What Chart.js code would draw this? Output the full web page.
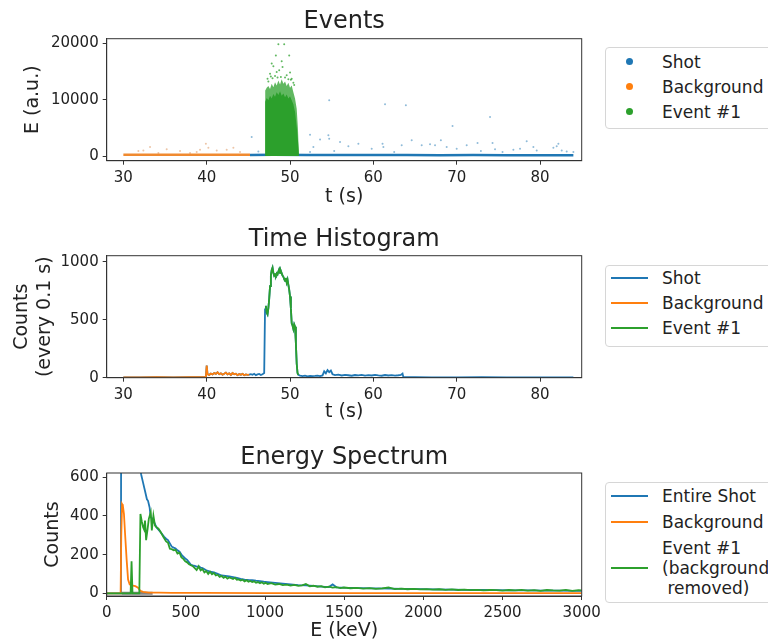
<!DOCTYPE html>
<html>
<head>
<meta charset="utf-8">
<title>Events / Time Histogram / Energy Spectrum</title>
<script src="https://cdn.jsdelivr.net/npm/chart.js@4.4.1/dist/chart.umd.min.js"></script>
<style>
  html, body { margin: 0; padding: 0; background: #fff; }
  body { width: 768px; height: 642px; position: relative; overflow: hidden; font-family: 'DejaVu Sans', sans-serif; color: #222; }
  canvas { position: absolute; left: 0; }
  .legend { position: absolute; left: 605px; width: 220px; box-sizing: border-box; border: 1px solid #d6d6d6; border-radius: 4px; background: #fff; }
  .lg-dot { position: absolute; width: 7px; height: 7px; border-radius: 50%; }
  .lg-line { position: absolute; width: 37px; height: 2px; }
  .lg-text { position: absolute; left: 662px; font-size: 17px; line-height: 20px; white-space: pre; color: #222; }
</style>
</head>
<body>
<canvas id="events" width="768" height="215" style="top:0"></canvas>
<canvas id="hist" width="768" height="215" style="top:215px"></canvas>
<canvas id="spectrum" width="768" height="212" style="top:430px"></canvas>

<script>
// ---------- colours ----------
const BLUE = '#1f77b4';
const ORANGE = '#ff7f0e';
const GREEN = '#2ca02c';

// ---------- Events (scatter of single events) ----------
const evtTicksX = [30, 40, 50, 60, 70, 80];
const evtTicksY = [0, 10000, 20000];

const shotBandT = [45.2, 48, 52, 56, 60, 64, 68, 72, 76, 80, 84];
const shotBandE = [200, 210, 190, 200, 180, 170, 150, 160, 150, 150, 140];
const bgBandT = [30, 33, 36, 39, 42, 45.2];
const bgBandE = [230, 220, 230, 210, 230, 220];

const shotPtT = [45.4, 46.2, 52.4, 52.8, 52.4, 53.6, 54.6, 54.7, 54.7, 55.3, 56.0, 57.0, 58.2, 59.8, 61.1, 61.2, 61.4, 62.5, 63.4, 63.9, 64.6, 65.8, 66.8, 67.4, 68.1, 68.8, 69.5, 70.0, 71.2, 72.5, 72.9, 74.0, 74.3, 74.6, 75.5, 76.8, 77.6, 78.4, 79.2, 79.6, 81.6, 82.0, 82.2, 82.6, 83.2, 84.0];
const shotPtE = [3370, 800, 3780, 1600, 700, 2950, 3660, 9870, 3070, 900, 2480, 1710, 2190, 1300, 2190, 1600, 9160, 700, 1890, 8980, 2780, 1890, 2070, 1890, 2780, 1600, 5320, 1300, 1890, 2300, 890, 6910, 2300, 1180, 700, 1120, 1300, 2600, 1600, 1000, 1480, 1710, 2190, 1000, 800, 700];

const bgPtT = [31.8, 32.4, 33.2, 34.2, 35.2, 36.8, 38.0, 38.8, 39.2, 39.9, 40.2, 41.2, 42.4, 43.2, 44.0];
const bgPtE = [890, 1000, 1600, 530, 1180, 890, 530, 700, 1120, 2190, 1480, 1000, 1120, 1480, 700];

// dense part of event #1: solid core and speckled halo outlines
const evCoreT = [47.0, 47.02, 47.2, 47.4, 47.6, 47.8, 48.0, 48.2, 48.4, 48.6, 48.8, 49.0, 49.2, 49.4, 49.6, 49.8, 50.0, 50.2, 50.4, 50.6, 50.8, 50.95, 51.05, 51.07];
const evCoreE = [0, 9600, 10300, 9900, 10700, 10200, 11000, 10500, 11300, 10800, 11500, 10700, 11100, 10400, 10900, 10200, 10600, 9900, 9200, 7800, 5200, 2800, 900, 0];
const evHaloT = [47.0, 47.02, 47.2, 47.4, 47.6, 47.8, 48.0, 48.2, 48.4, 48.6, 48.8, 49.0, 49.2, 49.4, 49.6, 49.8, 50.0, 50.2, 50.4, 50.6, 50.8, 50.95, 51.07];
const evHaloE = [0, 11600, 12100, 12400, 11900, 12800, 12200, 13100, 12500, 13400, 12700, 13600, 12800, 13200, 12400, 13000, 12100, 12500, 11300, 10200, 8400, 4800, 0];
const evPtT = [48.6, 49.3, 48.3, 49.9, 47.8, 48.0, 49.1, 48.4, 49.6, 48.9, 50.2, 47.4, 47.6, 48.7, 49.4, 50.0, 47.9, 48.2, 49.8, 50.4, 47.3, 50.5, 48.5, 49.0, 47.7, 50.1];
const evPtE = [19800, 19800, 17800, 17800, 16400, 15900, 15800, 14900, 14300, 14000, 13700, 13200, 14600, 15200, 13900, 14800, 13800, 14200, 13600, 13000, 13700, 12600, 13900, 16800, 14100, 13500];

// ---------- Time histogram (counts every 0.1 s) ----------
const histTicksX = [30, 40, 50, 60, 70, 80];
const histTicksY = [0, 500, 1000];

const histBgT = [30, 32, 34, 36, 38, 39.9, 40.0, 40.1, 40.3, 40.5, 40.7, 40.9, 41.1, 41.3, 41.5, 41.7, 41.9, 42.1, 42.3, 42.5, 42.7, 42.9, 43.1, 43.3, 43.5, 43.7, 43.9, 44.1, 44.3, 44.5, 44.7, 44.9, 45.1];
const histBgC = [3, 3, 4, 3, 4, 5, 104, 30, 24, 36, 28, 40, 33, 46, 30, 38, 26, 35, 44, 29, 38, 24, 40, 30, 34, 22, 31, 26, 33, 21, 28, 24, 27];

const histEvT = [47.1, 47.2, 47.3, 47.4, 47.5, 47.6, 47.7, 47.8, 47.9, 48.0, 48.1, 48.2, 48.3, 48.4, 48.5, 48.6, 48.7, 48.8, 48.9, 49.0, 49.1, 49.2, 49.3, 49.4, 49.5, 49.6, 49.7, 49.8, 49.9, 50.0, 50.1, 50.2, 50.3, 50.4, 50.5, 50.6, 50.7, 50.8, 50.9, 51.0];
const histEvC = [620, 560, 545, 600, 680, 790, 880, 930, 950, 905, 880, 890, 880, 900, 890, 915, 935, 905, 920, 900, 880, 870, 850, 835, 860, 820, 845, 800, 760, 700, 600, 470, 450, 420, 460, 440, 300, 120, 40, 25];

const histPreT = [45.3, 45.5, 45.7, 45.9, 46.1, 46.3, 46.5, 46.7, 46.9, 47.0];
const histPreC = [31, 25, 34, 22, 29, 33, 24, 30, 40, 590];
const histPostT = [51.2, 51.5, 51.8, 52.1, 52.4, 52.7, 53.0, 53.3, 53.6, 53.9, 54.1, 54.3, 54.5, 54.7, 54.9, 55.1, 55.4, 55.8, 56.2, 56.6, 57.0, 57.4, 57.8, 58.2, 58.6, 59.0, 59.4, 59.8, 60.2, 60.6, 61.0, 61.4, 61.8, 62.2, 62.6, 63.0, 63.3, 63.5, 63.6, 64.0, 65, 67, 70, 73, 76, 79, 82, 84];
const histPostC = [18, 14, 17, 12, 16, 13, 15, 18, 14, 20, 55, 38, 65, 48, 62, 30, 22, 26, 19, 24, 21, 17, 23, 20, 25, 18, 22, 19, 24, 20, 17, 23, 19, 22, 18, 21, 24, 35, 5, 4, 4, 3, 3, 4, 3, 3, 3, 3];

// the whole shot = background part + gap + event + tail
const histShotT = histBgT.concat(histPreT, histEvT, histPostT);
const histShotC = histBgC.concat(histPreC, histEvC, histPostC);

// ---------- Energy spectrum ----------
const specTicksX = [0, 500, 1000, 1500, 2000, 2500, 3000];
const specTicksY = [0, 200, 400, 600];

const specShotE = [0, 85, 90, 92, 150, 205, 218, 230, 242, 254, 261, 271, 278, 290, 302, 314, 327, 339, 351, 363, 375, 387, 399, 411, 423, 435, 447, 460, 472, 484, 496, 508, 520, 532, 544, 556, 568, 581, 593, 605, 629, 653, 677, 701, 726, 750, 774, 798, 822, 846, 871, 895, 919, 943, 968, 992, 1016, 1064, 1112, 1161, 1210, 1258, 1306, 1355, 1403, 1427, 1451, 1500, 1597, 1694, 1790, 1887, 1984, 2081, 2178, 2274, 2371, 2468, 2565, 2662, 2758, 2855, 2952, 3000];
const specShotC = [0, 0, 20, 1500, 1400, 680, 613, 571, 529, 486, 478, 444, 393, 385, 363, 342, 329, 317, 305, 292, 282, 275, 258, 241, 236, 232, 222, 215, 200, 190, 180, 173, 160, 147, 144, 142, 138, 139, 133, 130, 119, 112, 108, 100, 92, 90, 88, 84, 80, 75, 71, 69, 68, 65, 63, 60, 58, 54, 50, 46, 42, 41, 38, 35, 32, 46, 31, 29, 27, 25, 24, 23, 22, 20, 19, 18, 17, 16, 15, 15, 14, 14, 13, 12];

const specBgE = [0, 88, 92, 97, 102, 109, 116, 126, 135, 145, 157, 181, 198, 213, 230, 266, 330, 411, 600, 1000, 1500, 2000, 2500, 3000];
const specBgC = [0, 0, 300, 461, 453, 410, 308, 173, 71, 46, 41, 37, 29, 12, 7, 3, 3, 2, 2, 1, 1, 1, 1, 1];

const specEvE = [0, 145, 151, 157, 163, 169, 200, 206, 213, 222, 230, 236, 242, 249, 258, 266, 278, 285, 295, 305, 314, 327, 340, 352, 363, 375, 387, 399, 411, 423, 435, 447, 460, 472, 484, 496, 508, 520, 532, 544, 556, 568, 581, 593, 605, 617, 629, 641, 653, 665, 677, 689, 701, 713, 726, 738, 750, 762, 774, 786, 798, 810, 822, 834, 846, 858, 871, 883, 895, 907, 919, 931, 943, 955, 968, 980, 992, 1004, 1016, 1040, 1064, 1088, 1112, 1137, 1161, 1185, 1210, 1234, 1258, 1282, 1306, 1331, 1355, 1379, 1403, 1427, 1451, 1475, 1500, 1540, 1580, 1620, 1660, 1700, 1740, 1780, 1820, 1860, 1900, 1940, 1980, 2020, 2060, 2100, 2140, 2180, 2220, 2260, 2300, 2340, 2380, 2420, 2460, 2500, 2540, 2580, 2620, 2660, 2700, 2740, 2780, 2820, 2860, 2900, 2940, 2980, 3000];
const specEvC = [0, 0, 0, 165, 0, 0, 0, 0, 410, 370, 342, 330, 376, 275, 330, 385, 419, 325, 402, 350, 342, 334, 318, 300, 285, 268, 262, 230, 228, 222, 225, 205, 210, 185, 178, 165, 160, 150, 145, 140, 130, 120, 140, 118, 125, 108, 115, 100, 112, 98, 105, 92, 96, 85, 90, 80, 86, 76, 82, 78, 74, 80, 70, 72, 66, 70, 62, 68, 60, 64, 58, 62, 55, 58, 52, 57, 50, 54, 48, 52, 45, 48, 42, 45, 40, 43, 38, 41, 48, 36, 39, 34, 37, 31, 34, 29, 32, 27, 30, 26, 28, 24, 27, 23, 25, 30, 22, 24, 21, 23, 20, 22, 19, 21, 18, 20, 17, 19, 16, 18, 15, 17, 16, 14, 17, 15, 18, 14, 16, 13, 17, 15, 14, 18, 13, 16, 15];

const specGrayE = [95, 290];
const specGrayC = [0, 0];

// ---------- legends ----------
const evtLabels = ['Shot', 'Background', 'Event #1'];
const histLabels = ['Shot', 'Background', 'Event #1'];
const specLabels = ['Entire Shot', 'Background', 'Event #1\n(background\n removed)'];
const seriesColors = [BLUE, ORANGE, GREEN];

// ---------- helpers ----------
const FONT = "'DejaVu Sans', sans-serif";
const INK = '#222';
const EDGE = '#333';
const PLOT_LEFT = 106.7;
const PLOT_RIGHT = 581.7;

Chart.defaults.font.family = FONT;
Chart.defaults.color = INK;

function pairs(xs, ys) {
    return xs.map((x, i) => ({ x: x, y: ys[i] }));
}

const framePlugin = {
    id: 'frame',
    afterDatasetsDraw(chart) {
        const { ctx, chartArea: a } = chart;
        ctx.save();
        ctx.strokeStyle = EDGE;
        ctx.lineWidth = 1;
        ctx.strokeRect(a.left, a.top, a.right - a.left, a.bottom - a.top);
        ctx.restore();
    }
};

function lineSet(xs, ys, color, order, width) {
    return {
        data: pairs(xs, ys), borderColor: color, borderWidth: width || 1.8,
        pointRadius: 0, fill: false, tension: 0, order: order
    };
}

function dotSet(xs, ys, color, order, radius) {
    return {
        data: pairs(xs, ys), showLine: false, pointRadius: radius || 1, pointBorderWidth: 0,
        pointBackgroundColor: color, order: order
    };
}

function areaSet(xs, ys, color, order) {
    return {
        data: pairs(xs, ys), borderWidth: 0, borderColor: color, backgroundColor: color,
        pointRadius: 0, fill: 'origin', tension: 0, order: order
    };
}

function makeOptions(c) {
    const tickFont = { size: 15, family: FONT };
    const labelFont = { size: 19, family: FONT };
    return {
        responsive: false,
        animation: false,
        events: [],
        layout: { padding: { left: 0, top: 0, right: 768 - PLOT_RIGHT, bottom: 0 } },
        plugins: {
            legend: { display: false },
            tooltip: { enabled: false },
            title: {
                display: true, text: c.title, fullSize: false, color: INK,
                font: { size: 24, family: FONT, weight: 'normal' },
                padding: { top: c.titleTop, bottom: c.titleBottom }
            }
        },
        scales: {
            x: {
                type: 'linear', min: c.xMin, max: c.xMax,
                afterBuildTicks: s => { s.ticks = c.xTicks.map(v => ({ value: v })); },
                afterFit: s => { s.height = c.xHeight; },
                ticks: { color: INK, font: tickFont, padding: 4, maxRotation: 0, autoSkip: false, callback: v => String(v) },
                grid: { drawOnChartArea: false, drawTicks: true, tickLength: 4, color: EDGE },
                border: { display: true, color: EDGE },
                title: { display: true, text: c.xTitle, color: INK, font: labelFont, padding: { top: 0, bottom: c.xTitlePad } }
            },
            y: {
                type: 'linear', min: c.yMin, max: c.yMax,
                afterBuildTicks: s => { s.ticks = c.yTicks.map(v => ({ value: v })); },
                afterFit: s => { s.width = PLOT_LEFT; },
                ticks: { color: INK, font: tickFont, padding: 4, autoSkip: false, callback: v => String(v) },
                grid: { drawOnChartArea: false, drawTicks: true, tickLength: 4, color: EDGE },
                border: { display: true, color: EDGE },
                title: { display: true, text: c.yTitle, color: INK, font: labelFont, padding: { top: c.yTitlePad, bottom: 0 } }
            }
        }
    };
}

// ---------- chart 1: Events ----------
new Chart(document.getElementById('events'), {
    type: 'line',
    data: {
        datasets: [
            lineSet(shotBandT, shotBandE, BLUE, 6, 2.5),
            dotSet(shotPtT, shotPtE, 'rgba(31,119,180,0.5)', 5),
            lineSet(bgBandT, bgBandE, '#f08a30', 4, 2.5),
            dotSet(bgPtT, bgPtE, 'rgba(220,140,80,0.5)', 3),
            areaSet(evHaloT, evHaloE, 'rgba(44,160,44,0.75)', 2),
            areaSet(evCoreT, evCoreE, GREEN, 1),
            dotSet(evPtT, evPtE, 'rgba(44,160,44,0.75)', 0)
        ]
    },
    options: makeOptions({
        title: 'Events', titleTop: 7.6, titleBottom: 2.3,
        xMin: 28, xMax: 85, xTicks: evtTicksX, xHeight: 215 - 160.7, xTitle: 't (s)', xTitlePad: 6.6,
        yMin: -830, yMax: 20800, yTicks: evtTicksY, yTitle: 'E (a.u.)', yTitlePad: 21.6
    }),
    plugins: [framePlugin]
});

// ---------- chart 2: Time Histogram ----------
new Chart(document.getElementById('hist'), {
    type: 'line',
    data: {
        datasets: [
            lineSet(histShotT, histShotC, BLUE, 3),
            lineSet(histBgT, histBgC, ORANGE, 2),
            lineSet(histEvT, histEvC, GREEN, 1)
        ]
    },
    options: makeOptions({
        title: 'Time Histogram', titleTop: 10.6, titleBottom: 1.3,
        xMin: 28, xMax: 85, xTicks: histTicksX, xHeight: 215 - 162.7, xTitle: 't (s)', xTitlePad: 6.6,
        yMin: 0, yMax: 1052, yTicks: histTicksY, yTitle: ['Counts', '(every 0.1 s)'], yTitlePad: 10.6
    }),
    plugins: [framePlugin]
});

// ---------- chart 3: Energy Spectrum ----------
new Chart(document.getElementById('spectrum'), {
    type: 'line',
    data: {
        datasets: [
            lineSet(specGrayE, specGrayC, 'rgba(90,90,90,0.75)', 4, 3),
            lineSet(specShotE, specShotC, BLUE, 3),
            lineSet(specBgE, specBgC, ORANGE, 2),
            lineSet(specEvE, specEvC, GREEN, 1)
        ]
    },
    options: makeOptions({
        title: 'Energy Spectrum', titleTop: 13.6, titleBottom: 0.6,
        xMin: 0, xMax: 3000, xTicks: specTicksX, xHeight: 212 - 166, xTitle: 'E (keV)', xTitlePad: 0,
        yMin: -14, yMax: 622, yTicks: specTicksY, yTitle: 'Counts', yTitlePad: 41.6
    }),
    plugins: [framePlugin]
});

// ---------- legends (html, they run off the right edge like the original) ----------
function addLegend(boxTop, boxBottom, labels, kind, rowCenters, textTops) {
    const box = document.createElement('div');
    box.className = 'legend';
    box.style.top = boxTop + 'px';
    box.style.height = (boxBottom - boxTop) + 'px';
    document.body.appendChild(box);

    labels.forEach((label, i) => {
        const mark = document.createElement('div');
        if (kind === 'dot') {
            mark.className = 'lg-dot';
            mark.style.left = (629.3 - 3.5) + 'px';
            mark.style.top = (rowCenters[i] - 3.5) + 'px';
        } else {
            mark.className = 'lg-line';
            mark.style.left = '610.7px';
            mark.style.top = (rowCenters[i] - 1) + 'px';
        }
        mark.style.background = seriesColors[i];
        document.body.appendChild(mark);

        const text = document.createElement('div');
        text.className = 'lg-text';
        text.textContent = label;
        text.style.top = (textTops[i] - 10) + 'px';
        document.body.appendChild(text);
    });
}

addLegend(47.3, 129.3, evtLabels, 'dot', [61.7, 86.7, 111.7], [61.7, 86.7, 111.7]);
addLegend(265, 346.7, histLabels, 'line', [277.7, 303.3, 328.3], [277.7, 303.3, 328.3]);
addLegend(482.3, 602.7, specLabels, 'line', [496, 521.7, 568], [496, 521.7, 547.7]);
</script>
</body>
</html>
